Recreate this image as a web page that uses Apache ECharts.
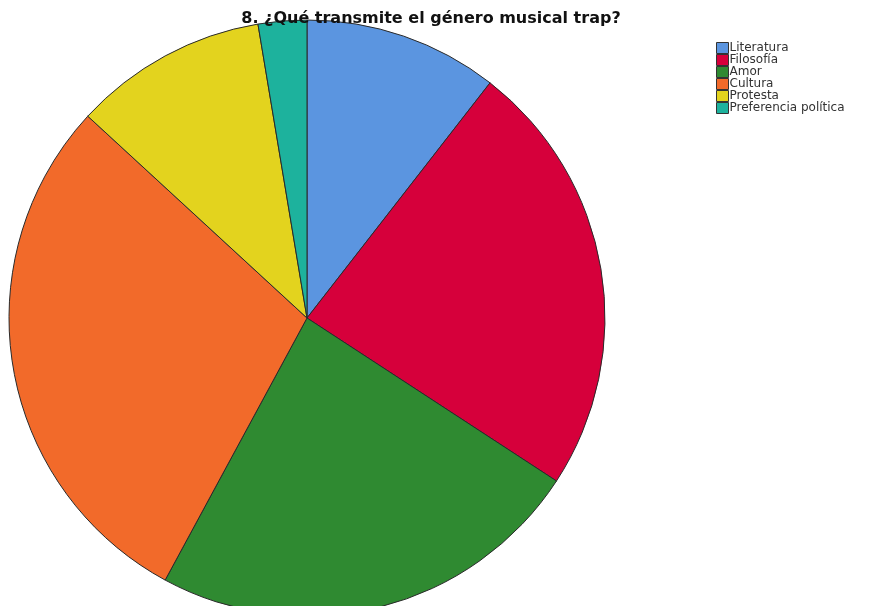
<!DOCTYPE html>
<html>
<head>
<meta charset="utf-8">
<script src="https://cdn.jsdelivr.net/npm/echarts@6/dist/echarts.min.js"></script>
<style>
html,body{margin:0;padding:0;background:#fff;}
#c{width:877px;height:606px;}
</style>
</head>
<body>
<div id="c"></div>
<script>
const categories = ["Literatura", "Filosofía", "Amor", "Cultura", "Protesta", "Preferencia política"];
const counts = [4, 9, 9, 11, 4, 1];
const colors = ["#5B95E0", "#D6003B", "#2F8A31", "#F26A2A", "#E3D31E", "#1DB29D"];
const titleText = "8. ¿Qué transmite el género musical trap?";

const chart = echarts.init(document.getElementById('c'), null, {renderer: 'canvas'});
chart.setOption({
  animation: false,
  backgroundColor: '#fff',
  title: {
    text: titleText,
    left: 426,
    textAlign: 'center',
    top: 6,
    textStyle: {fontFamily: 'DejaVu Sans, sans-serif', fontSize: 16, fontWeight: 'bold', color: '#111'}
  },
  legend: {
    orient: 'vertical',
    left: 711,
    top: 37,
    itemWidth: 12,
    itemHeight: 11,
    itemGap: 0,
    icon: 'rect',
    data: categories,
    itemStyle: {borderColor: '#333', borderWidth: 1},
    textStyle: {fontFamily: 'DejaVu Sans, sans-serif', fontSize: 12, lineHeight: 12, color: '#333', padding: [0,0,0,-4]}
  },
  series: [{
    type: 'pie',
    center: [307, 318],
    radius: [0, 298],
    startAngle: 90,
    clockwise: true,
    label: {show: false},
    labelLine: {show: false},
    emphasis: {disabled: true},
    itemStyle: {borderColor: '#2a2a2a', borderWidth: 1},
    data: categories.map((n, i) => ({name: n, value: counts[i], itemStyle: {color: colors[i]}}))
  }]
});
</script>
</body>
</html>
